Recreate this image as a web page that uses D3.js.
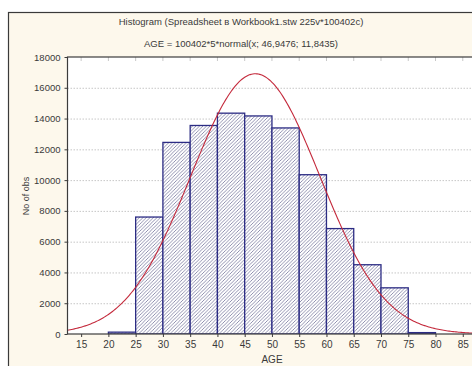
<!DOCTYPE html>
<html>
<head>
<meta charset="utf-8">
<script src="https://cdn.jsdelivr.net/npm/d3@7"></script>
<style>
  html, body { margin: 0; padding: 0; background: #ffffff; }
  svg { display: block; font-family: "Liberation Sans", Arial, sans-serif; }
</style>
</head>
<body>
<svg id="chart" width="472" height="366"></svg>
<script>
// Histogram bins of AGE (lower bound of each 5-year bin) and their counts
const binStarts = [20, 25, 30, 35, 40, 45, 50, 55, 60, 65, 70, 75];
const counts    = [120, 7600, 12450, 13550, 14350, 14170, 13390, 10350, 6850, 4500, 3000, 90];
const binWidth = 5;

// Fitted normal curve stated in the subtitle: 100402*5*normal(x; 46,9476; 11,8435)
const nObs = 100402;
const fitMean = 46.9476;
const fitSd = 11.8435;

const xTicks = [15, 20, 25, 30, 35, 40, 45, 50, 55, 60, 65, 70, 75, 80, 85];
const yTicks = [0, 2000, 4000, 6000, 8000, 10000, 12000, 14000, 16000, 18000];

const titleText = "Histogram (Spreadsheet в Workbook1.stw 225v*100402c)";
const subtitleText = "AGE = 100402*5*normal(x; 46,9476; 11,8435)";

const W = 472, H = 366;
const plot = { left: 67.5, top: 57, bottom: 334, right: 476.4 };

const svg = d3.select("#chart");

// outer window frame with cream background
svg.append("rect").attr("x", 0).attr("y", 0).attr("width", W).attr("height", H).attr("fill", "#ffffff");
svg.append("rect")
  .attr("x", 8.5).attr("y", 12.5).attr("width", W).attr("height", H)
  .attr("fill", "#fdf8ec").attr("stroke", "#3a3a3a").attr("stroke-width", 1.2);

const x = d3.scaleLinear().domain([12.5, 87.5]).range([plot.left, plot.right]);
const y = d3.scaleLinear().domain([0, 18000]).range([plot.bottom, plot.top]);

const defs = svg.append("defs");
const pat = defs.append("pattern")
  .attr("id", "hatch").attr("patternUnits", "userSpaceOnUse")
  .attr("width", 3.5).attr("height", 3.5);
pat.append("rect").attr("width", 3.5).attr("height", 3.5).attr("fill", "#ffffff");
pat.append("path")
  .attr("d", "M-1,1 L1,-1 M0,3.5 L3.5,0 M2.5,4.5 L4.5,2.5")
  .attr("stroke", "#6e6e96").attr("stroke-width", 0.75);

defs.append("clipPath").attr("id", "plotClip")
  .append("rect").attr("x", plot.left).attr("y", plot.top)
  .attr("width", plot.right - plot.left).attr("height", plot.bottom - plot.top);

// plot area
svg.append("rect")
  .attr("x", plot.left).attr("y", plot.top)
  .attr("width", plot.right - plot.left).attr("height", plot.bottom - plot.top)
  .attr("fill", "#ffffff");

// horizontal dotted grid
svg.append("g").selectAll("line").data(yTicks.filter(d => d > 0 && d < 18000)).join("line")
  .attr("x1", plot.left).attr("x2", plot.right)
  .attr("y1", d => y(d) + 0.5).attr("y2", d => y(d) + 0.5)
  .attr("stroke", "#b8b8b8").attr("stroke-width", 0.8).attr("stroke-dasharray", "1.5,1.5");

// small light ticks along the top edge
svg.append("g").selectAll("line").data(xTicks).join("line")
  .attr("x1", d => x(d)).attr("x2", d => x(d))
  .attr("y1", plot.top).attr("y2", plot.top + 4)
  .attr("stroke", "#c8c8c8").attr("stroke-width", 1);

// bars
const bars = svg.append("g").attr("clip-path", "url(#plotClip)");
bars.selectAll("rect").data(binStarts.map((s, i) => ({ s, c: counts[i] }))).join("rect")
  .attr("x", d => x(d.s))
  .attr("y", d => y(d.c))
  .attr("width", d => x(d.s + binWidth) - x(d.s))
  .attr("height", d => y(0) - y(d.c))
  .attr("fill", "url(#hatch)")
  .attr("stroke", "#2c2c84").attr("stroke-width", 1.3);

// fitted normal curve
const density = v => nObs * binWidth * Math.exp(-0.5 * ((v - fitMean) / fitSd) ** 2) / (fitSd * Math.sqrt(2 * Math.PI));
const curveXs = d3.range(12.5, 87.51, 0.25);
svg.append("path")
  .attr("clip-path", "url(#plotClip)")
  .attr("d", d3.line().x(v => x(v)).y(v => y(density(v)))(curveXs))
  .attr("fill", "none").attr("stroke", "#c42a3c").attr("stroke-width", 1.1);

// plot border
svg.append("rect")
  .attr("x", plot.left).attr("y", plot.top)
  .attr("width", plot.right - plot.left).attr("height", plot.bottom - plot.top)
  .attr("fill", "none").attr("stroke", "#3c3c3c").attr("stroke-width", 1.2);

// axes
const xAxis = svg.append("g").attr("transform", `translate(0,${plot.bottom})`)
  .call(d3.axisBottom(x).tickValues(xTicks).tickSize(3).tickPadding(4));
const yAxis = svg.append("g").attr("transform", `translate(${plot.left},0)`)
  .call(d3.axisLeft(y).tickValues(yTicks).tickSize(3).tickPadding(4).tickFormat(d3.format("d")));
[xAxis, yAxis].forEach(g => {
  g.select(".domain").remove();
  g.selectAll(".tick line").attr("stroke", "#3c3c3c");
  g.selectAll("text").attr("fill", "#3a3a3a").style("font-family", "'Liberation Sans', Arial, sans-serif");
});
xAxis.selectAll("text").style("font-size", "10px");
yAxis.selectAll("text").style("font-size", "9.5px");

// titles
svg.append("text").attr("x", 241).attr("y", 25).attr("text-anchor", "middle")
  .attr("fill", "#3a3a3a").style("font-size", "9.5px").text(titleText);
svg.append("text").attr("x", 241).attr("y", 47).attr("text-anchor", "middle")
  .attr("fill", "#3a3a3a").style("font-size", "9.5px").text(subtitleText);
svg.append("text").attr("x", 272).attr("y", 363).attr("text-anchor", "middle")
  .attr("fill", "#3a3a3a").style("font-size", "10px").text("AGE");
svg.append("text").attr("transform", "translate(29,196) rotate(-90)").attr("text-anchor", "middle")
  .attr("fill", "#3a3a3a").style("font-size", "9px").text("No of obs");
</script>
</body>
</html>
